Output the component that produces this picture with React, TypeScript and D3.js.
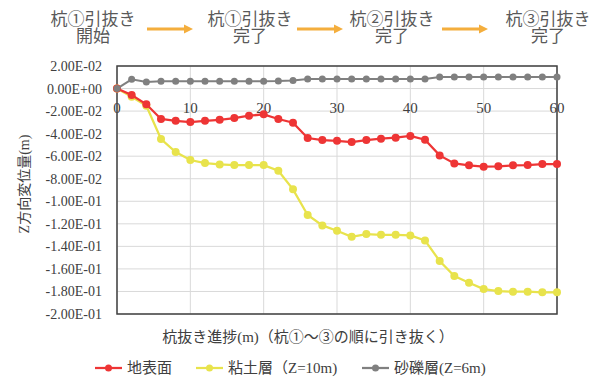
import React from "react";
import * as d3 from "d3";

// Pile extraction progress (m), sampled every 2 m
const progress = [0, 2, 4, 6, 8, 10, 12, 14, 16, 18, 20, 22, 24, 26, 28, 30, 32, 34, 36, 38, 40, 42, 44, 46, 48, 50, 52, 54, 56, 58, 60];

// Vertical displacement (m)
const groundSurface = [0, -0.0058, -0.014, -0.027, -0.0286, -0.0297, -0.0286, -0.0277, -0.0262, -0.0241, -0.0229, -0.027, -0.0303, -0.0439, -0.0457, -0.0464, -0.0475, -0.0457, -0.0445, -0.0436, -0.0421, -0.0454, -0.0593, -0.0664, -0.0681, -0.0693, -0.069, -0.0681, -0.0679, -0.067, -0.067];
const clayLayer = [0, -0.0073, -0.0152, -0.0448, -0.0563, -0.0634, -0.0661, -0.0673, -0.0679, -0.0679, -0.0679, -0.0729, -0.0894, -0.1122, -0.1214, -0.1261, -0.1315, -0.1291, -0.1297, -0.1297, -0.1303, -0.1347, -0.153, -0.1663, -0.1723, -0.1779, -0.1796, -0.1802, -0.1802, -0.1808, -0.1808];
const gravelLayer = [0, 0.0082, 0.0058, 0.0064, 0.0064, 0.0064, 0.0064, 0.0064, 0.0064, 0.0064, 0.0064, 0.0066, 0.0072, 0.0084, 0.0084, 0.0084, 0.0084, 0.0084, 0.0084, 0.0084, 0.0084, 0.0084, 0.0102, 0.0102, 0.0102, 0.0102, 0.0102, 0.0102, 0.0102, 0.0102, 0.0102];

const seriesNames = ["地表面", "粘土層（Z=10m)", "砂礫層(Z=6m)"];
const seriesColors = ["#EE3535", "#E8E34C", "#808080"];

const xTicks = [0, 10, 20, 30, 40, 50, 60];
const yTicks = [0.02, 0, -0.02, -0.04, -0.06, -0.08, -0.1, -0.12, -0.14, -0.16, -0.18, -0.2];
const yTickLabels = ["2.00E-02", "0.00E+00", "-2.00E-02", "-4.00E-02", "-6.00E-02", "-8.00E-02", "-1.00E-01", "-1.20E-01", "-1.40E-01", "-1.60E-01", "-1.80E-01", "-2.00E-01"];

const stageLines1 = ["杭①引抜き", "杭①引抜き", "杭②引抜き", "杭③引抜き"];
const stageLines2 = ["開始", "完了", "完了", "完了"];

const xTitle = "杭抜き進捗(m)（杭①～③の順に引き抜く）";
const yTitle = "Z方向変位量(m)";

const W = 608;
const H = 379;
const plot = { left: 117, right: 557, top: 66, bottom: 314 };

const SERIF = "Liberation Serif, serif";
const CJK = "Noto Sans CJK JP, sans-serif";
const MIXED = "Liberation Serif, Noto Sans CJK JP, serif";

const stageCenters = [93, 250, 392, 548];
const arrowSpans: [number, number][] = [[147, 193], [297, 343], [442, 488]];
const legendX = [95, 196, 362];

export default function App() {
  const x = d3.scaleLinear().domain([0, 60]).range([plot.left, plot.right]);
  const y = d3.scaleLinear().domain([-0.2, 0.02]).range([plot.bottom, plot.top]);

  const series = [groundSurface, clayLayer, gravelLayer];
  const line = d3
    .line<number>()
    .x((_, i) => x(progress[i]))
    .y((d) => y(d));

  const arrowColor = "#F4AE3D";
  const textColor = "#404040";

  // clay first, then ground surface, gravel on top
  const order = [1, 0, 2];

  return (
    <svg
      width={W}
      height={H}
      style={{ position: "absolute", left: 0, top: 0, background: "#fff" }}
    >
      {/* stage annotations */}
      {stageLines1.map((t, i) => (
        <g key={"st" + i} fill="#595959" fontFamily={CJK} fontSize={17} textAnchor="middle">
          <text x={stageCenters[i]} y={25}>{t}</text>
          <text x={stageCenters[i]} y={42}>{stageLines2[i]}</text>
        </g>
      ))}
      {arrowSpans.map(([a, b], i) => (
        <g key={"ar" + i}>
          <line x1={a} x2={b - 7} y1={29} y2={29} stroke={arrowColor} strokeWidth={3} />
          <path d={`M${b},29 L${b - 9},24.5 L${b - 9},33.5 Z`} fill={arrowColor} />
        </g>
      ))}

      {/* grid */}
      {yTicks.map((t, i) => (
        <line key={"gy" + i} x1={plot.left} x2={plot.right} y1={y(t)} y2={y(t)} stroke="#D9D9D9" strokeWidth={1} />
      ))}
      {xTicks.map((t, i) => (
        <line key={"gx" + i} x1={x(t)} x2={x(t)} y1={plot.top} y2={plot.bottom} stroke="#D9D9D9" strokeWidth={1} />
      ))}

      {/* plot frame */}
      <rect
        x={plot.left}
        y={plot.top}
        width={plot.right - plot.left}
        height={plot.bottom - plot.top}
        fill="none"
        stroke="#404040"
        strokeWidth={1.5}
      />

      {/* y tick labels */}
      {yTicks.map((t, i) => (
        <text
          key={"yl" + i}
          x={102}
          y={y(t) + 5}
          textAnchor="end"
          fontFamily={SERIF}
          fontSize={14}
          fill={textColor}
        >
          {yTickLabels[i]}
        </text>
      ))}

      {/* x tick labels, sitting just below the zero line */}
      {xTicks.map((t, i) => (
        <text
          key={"xl" + i}
          x={x(t)}
          y={113}
          textAnchor="middle"
          fontFamily={SERIF}
          fontSize={15}
          fill={textColor}
        >
          {t}
        </text>
      ))}

      {/* series */}
      {order.map((si) => {
        const vals = series[si];
        const c = seriesColors[si];
        const r = si === 2 ? 3.5 : 4;
        return (
          <g key={"s" + si}>
            <path d={line(vals) || ""} fill="none" stroke={c} strokeWidth={si === 2 ? 2 : 2.25} />
            {vals.map((v, i) => (
              <circle key={i} cx={x(progress[i])} cy={y(v)} r={r} fill={c} />
            ))}
          </g>
        );
      })}

      {/* axis titles */}
      <text
        transform={`translate(29,184) rotate(-90)`}
        textAnchor="middle"
        fontFamily={MIXED}
        fontSize={14}
        fill={textColor}
      >
        {yTitle}
      </text>
      <text x={308} y={342} textAnchor="middle" fontFamily={MIXED} fontSize={15} fill={textColor}>
        {xTitle}
      </text>

      {/* legend */}
      {seriesNames.map((n, i) => (
        <g key={"lg" + i}>
          <line x1={legendX[i]} x2={legendX[i] + 27} y1={368} y2={368} stroke={seriesColors[i]} strokeWidth={2.25} />
          <circle cx={legendX[i] + 13.5} cy={368} r={3.5} fill={seriesColors[i]} />
          <text x={legendX[i] + 32} y={373} fontFamily={MIXED} fontSize={15} fill={textColor}>
            {n}
          </text>
        </g>
      ))}
    </svg>
  );
}
